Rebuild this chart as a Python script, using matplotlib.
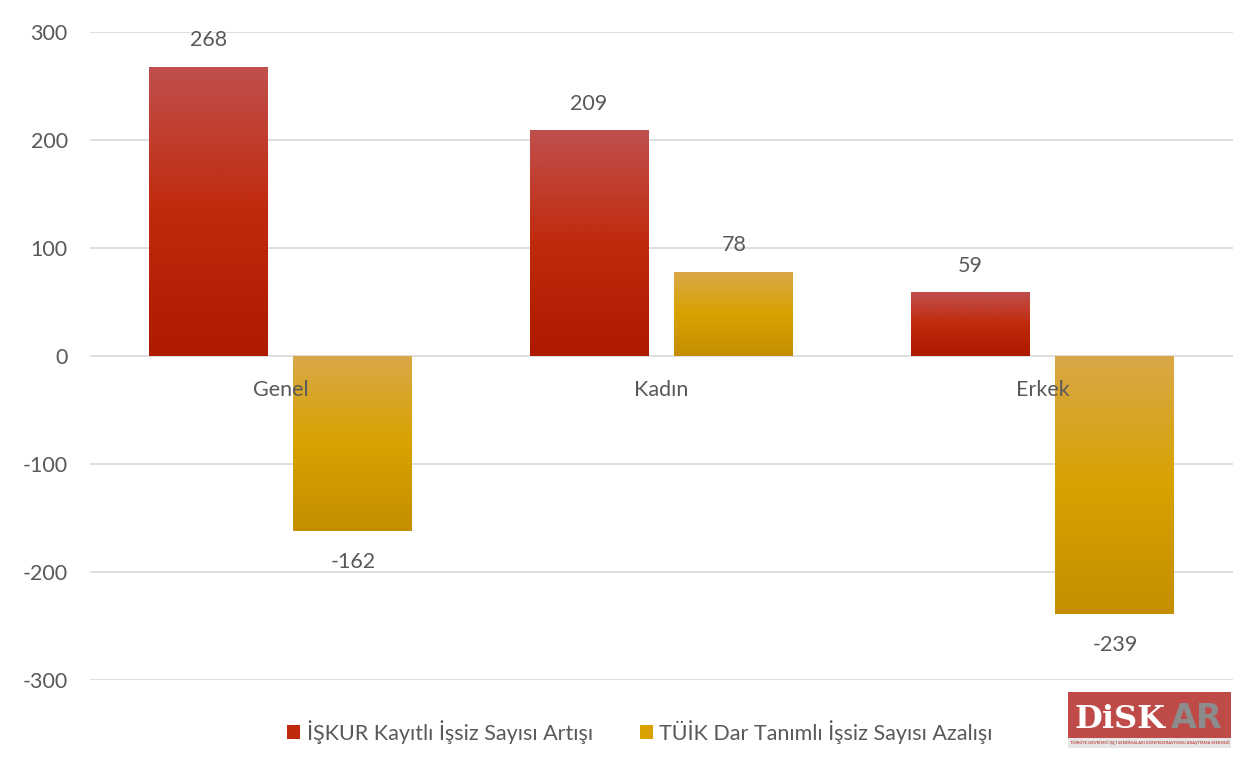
import matplotlib
matplotlib.use("Agg")
import matplotlib.pyplot as plt
import numpy as np
from matplotlib.colors import LinearSegmentedColormap
from matplotlib.patches import Rectangle, Patch

categories = ["Genel", "Kadın", "Erkek"]
iskur = [268, 209, 59]
tuik = [-162, 78, -239]
series_names = ["İŞKUR Kayıtlı İşsiz Sayısı Artışı", "TÜİK Dar Tanımlı İşsiz Sayısı Azalışı"]
yticks = [-300, -200, -100, 0, 100, 200, 300]

plt.rcParams['font.family'] = ['Lato', 'DejaVu Sans']
txtc = "#595959"
fs = 15.5

fig = plt.figure(figsize=(12.6, 7.66), dpi=100)
ax = fig.add_axes([90/1260, 1-680/766, (1233-90)/1260, 648/766])
ax.set_xlim(-0.5, 2.5)
ax.set_ylim(-300, 300)
for s in ax.spines.values():
    s.set_visible(False)
ax.set_yticks(yticks)
ax.set_yticklabels([str(v) for v in yticks], fontsize=fs, color=txtc)
ax.tick_params(axis='y', length=0, pad=16)
ax.set_xticks([])
for v in yticks:
    ax.axhline(v, color="#D9D9D9", lw=1.2, zorder=0)

red_cmap = LinearSegmentedColormap.from_list("r", ["#C0504D", "#C02A0C", "#AE1A00"])
gold_cmap = LinearSegmentedColormap.from_list("g", ["#D8A848", "#D9A200", "#C48E00"])

x = np.arange(len(categories))
w = 0.312
off = 0.19
grad = np.linspace(0, 1, 256).reshape(-1, 1)

def gradbars(xs, vals, cmap):
    bars = ax.bar(xs, vals, w, facecolor="none", edgecolor="none", zorder=2)
    for b, v in zip(bars, vals):
        x0 = b.get_x()
        top = max(v, 0); bot = min(v, 0)
        im = ax.imshow(grad, cmap=cmap, aspect='auto',
                       extent=[x0, x0 + b.get_width(), bot, top],
                       origin='upper', zorder=2)
        im.set_clip_path(b)
    return bars

gradbars(x - off, iskur, red_cmap)
gradbars(x + off, tuik, gold_cmap)
ax.set_xlim(-0.5, 2.5)
ax.set_ylim(-300, 300)

for xi, v in zip(x - off, iskur):
    ax.annotate(str(v), (xi, v), xytext=(0, 12), textcoords='offset points',
                ha='center', va='bottom', fontsize=fs, color=txtc)
for xi, v in zip(x + off, tuik):
    if v >= 0:
        ax.annotate(str(v), (xi, v), xytext=(0, 12), textcoords='offset points',
                    ha='center', va='bottom', fontsize=fs, color=txtc)
    else:
        ax.annotate(str(v), (xi, v), xytext=(0, -15), textcoords='offset points',
                    ha='center', va='top', fontsize=fs, color=txtc)

for xi, c in zip(x, categories):
    ax.annotate(c, (xi, 0), xytext=(0, -17), textcoords='offset points',
                ha='center', va='top', fontsize=fs, color=txtc, zorder=5)

handles = [Patch(facecolor="#C02A0C"), Patch(facecolor="#D9A200")]
fig.legend(handles, series_names, loc='center', bbox_to_anchor=(640/1260, 1-732/766),
           ncol=2, frameon=False, fontsize=fs, labelcolor=txtc, handlelength=0.6,
           handleheight=0.6, handletextpad=0.3, columnspacing=2.2)

# logo
lx0, ly0, lw, lh = 1068/1260, 1-748/766, 163/1260, 56/766
fig.patches.append(Rectangle((lx0, ly0 + 10/766), lw, lh - 10/766, transform=fig.transFigure,
                             facecolor="#BE4B48", edgecolor="none"))
fig.patches.append(Rectangle((lx0, ly0), lw, 10/766, transform=fig.transFigure,
                             facecolor="#E6E6E6", edgecolor="none"))
fig.text(1074/1260, 1-719/766, "DiSK", fontsize=23, fontweight='bold', color="white",
         ha='left', va='center', family=['DejaVu Serif'])
fig.text(1222/1260, 1-719/766, "AR", fontsize=24, fontweight='bold', color="#8C8C8C",
         ha='right', va='center', family=['DejaVu Sans'])
fig.text(1150/1260, 1-743/766, "TÜRKİYE DEVRİMCİ İŞÇİ SENDİKALARI KONFEDERASYONU ARAŞTIRMA MERKEZİ",
         fontsize=3, color="#BE4B48", ha='center', va='center', fontweight='bold')

fig.savefig("out.png", dpi=100)
